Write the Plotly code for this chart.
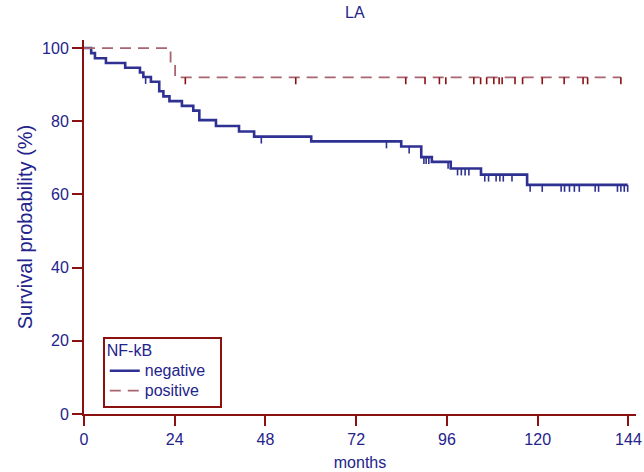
import plotly.graph_objects as go

# Negative group: step times (months) and survival (%) after each step
neg_t = [0, 1.9, 2.9, 5.8, 10.9, 14.8, 15.7, 17.7, 19.9, 21.0, 22.6, 25.9, 28.9, 30.5, 34.9, 41.0, 45.0,
         60.1, 83.9, 89.2, 92.0, 97.0, 105.0, 117.2, 143.8]
neg_s = [100, 98.6, 97.2, 95.9, 94.6, 93.3, 92.1, 90.8, 88.2, 86.8, 85.5, 84.2, 82.9, 80.3, 78.7, 77.2, 75.8,
         74.5, 73.1, 70.2, 68.9, 67.1, 65.4, 62.6, 62.6]
neg_cens = [16.3, 46.9, 80.0, 86.0, 89.9, 90.5, 91.2, 96.3, 98.8, 99.8, 100.8, 101.8, 106.0, 107.0, 109.0,
            110.0, 110.9, 113.2, 118.0, 121.2, 126.2, 127.1, 128.4, 129.7, 131.0, 135.2, 136.1, 141.1,
            142.0, 142.9, 143.8]

# Positive group
pos_t = [0, 22.9, 24.1, 142.0]
pos_s = [100, 96.0, 92.0, 92.0]
pos_cens = [26.8, 56.0, 85.1, 90.2, 94.0, 95.7, 103.1, 104.9, 106.5, 108.4, 109.8, 110.6, 114.0, 116.0,
            121.2, 127.0, 132.0, 133.2, 142.0]

x_ticks = [0, 24, 48, 72, 96, 120, 144]
y_ticks = [0, 20, 40, 60, 80, 100]

NAVY = "#23238C"
BLUE = "#2E3192"
ROSE = "#A8646F"
MAROON = "#8B1111"
TICK_DROP = 1.9  # length of censor marks, in % units


def level_at(t_list, s_list, t):
    v = s_list[0]
    for tt, ss in zip(t_list, s_list):
        if tt <= t:
            v = ss
    return v


def censor_segments(t_list, s_list, cens):
    xs, ys = [], []
    for c in cens:
        lv = level_at(t_list, s_list, c)
        xs += [c, c, None]
        ys += [lv, lv - TICK_DROP, None]
    return xs, ys


def big(txt, pad=0):
    return "<span style='font-size:16px'>" + txt + "&nbsp;" * pad + "</span>"


fig = go.Figure()

fig.add_trace(go.Scatter(x=neg_t, y=neg_s, mode="lines", line=dict(shape="hv", color=BLUE, width=2.6),
                         name=big("negative", 2)))
fig.add_trace(go.Scatter(x=pos_t, y=pos_s, mode="lines",
                         line=dict(shape="hv", color=ROSE, width=1.8, dash="11px,7px"),
                         name=big("positive", 2)))

cx, cy = censor_segments(neg_t, neg_s, neg_cens)
fig.add_trace(go.Scatter(x=cx, y=cy, mode="lines", line=dict(color=BLUE, width=1.6),
                         showlegend=False, hoverinfo="skip"))
cx, cy = censor_segments(pos_t, pos_s, pos_cens)
fig.add_trace(go.Scatter(x=cx, y=cy, mode="lines", line=dict(color=MAROON, width=1.6),
                         showlegend=False, hoverinfo="skip"))

font_family = "Liberation Sans, Arial, sans-serif"

fig.update_layout(
    width=644, height=472,
    margin=dict(l=84, r=8, t=40, b=58),
    plot_bgcolor="white", paper_bgcolor="white",
    font=dict(family=font_family, size=16, color=NAVY),
    title=dict(text="LA", x=0.551, xanchor="center", y=0.974, yanchor="middle",
               font=dict(size=16, color=NAVY)),
    showlegend=True,
    legend=dict(
        title=dict(text=big("NF-kB"), font=dict(size=13, color=NAVY)),
        x=0.034, y=0.206, xanchor="left", yanchor="top",
        bordercolor=MAROON, borderwidth=2, bgcolor="white",
        font=dict(size=13, color=NAVY), itemwidth=30, tracegroupgap=0,
    ),
    xaxis=dict(range=[0, 146], tickvals=x_ticks, ticktext=[str(v) for v in x_ticks],
               showgrid=False, zeroline=False, showline=True, linecolor=MAROON, linewidth=2,
               ticks="outside", ticklen=10, tickwidth=2, tickcolor=MAROON, automargin=False,
               tickfont=dict(size=16, color=NAVY),
               title=dict(text="months", font=dict(size=16, color=NAVY), standoff=10)),
    yaxis=dict(range=[0, 102.2], tickvals=y_ticks, ticktext=[str(v) for v in y_ticks],
               showgrid=False, zeroline=False, showline=True, linecolor=MAROON, linewidth=2,
               ticks="outside", ticklen=10, tickwidth=2, tickcolor=MAROON, automargin=False,
               tickfont=dict(size=16, color=NAVY),
               title=dict(text="Survival probability (%)", font=dict(size=20, color=NAVY), standoff=4)),
)

fig.write_html("out.html", config={"displayModeBar": False},
               post_script="document.body.style.margin='0px';document.body.style.padding='0px';")
